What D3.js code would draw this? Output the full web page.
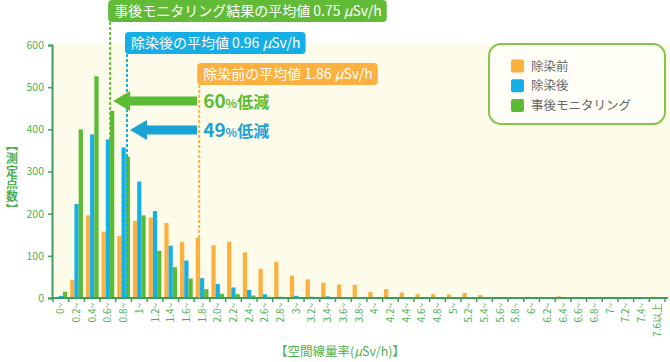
<!DOCTYPE html>
<html>
<head>
<meta charset="utf-8">
<script src="https://cdn.jsdelivr.net/npm/d3@7"></script>
<style>
  body { margin: 0; background: #fff; }
  svg { display: block; font-family: "Noto Sans CJK JP", "Noto Sans", sans-serif; }
</style>
</head>
<body>
<script>
// categories (空間線量率 bins)
var categories = ["0~","0.2~","0.4~","0.6~","0.8~","1~","1.2~","1.4~","1.6~","1.8~",
  "2.0~","2.2~","2.4~","2.6~","2.8~","3~","3.2~","3.4~","3.6~","3.8~",
  "4~","4.2~","4.4~","4.6~","4.8~","5~","5.2~","5.4~","5.6~","5.8~",
  "6~","6.2~","6.4~","6.6~","6.8~","7~","7.2~","7.4~","7.6以上"];

// 除染前
var before = [0,43,196,157,147,183,191,178,133,143,
  125,133,108,69,86,53,44,36,32,31,
  14,21,13,9,9,8,12,7,2,1,
  3,0,4,1,1,0,1,0,3];
// 除染後
var after = [5,223,388,376,357,276,206,124,89,47,
  33,25,19,9,3,5,3,4,1,1,
  1,0,0,0,0,0,0,0,0,0,
  0,0,0,0,0,0,0,0,0];
// 事後モニタリング
var monitor = [15,400,526,444,335,196,112,73,46,21,
  10,9,6,3,1,2,1,1,0,0,
  0,0,0,0,0,0,0,0,0,0,
  0,0,0,0,0,0,0,0,0];

var seriesNames = ["除染前","除染後","事後モニタリング"];
var seriesColors = ["#fbb040","#15b0e6","#5cbb35"];
var yTicks = [0,100,200,300,400,500,600];

// 平均値
var means = [
  {label: "事後モニタリング結果の平均値 0.75 ", value: 0.75, color: "#62bb37", top: 0},
  {label: "除染後の平均値 0.96 ", value: 0.96, color: "#15aee5", top: 32},
  {label: "除染前の平均値 1.86 ", value: 1.86, color: "#fbb040", top: 63}
];
var reductions = [
  {pct: "60", from: 1.86, to: 0.75, color: "#5cbb35", y: 101},
  {pct: "49", from: 1.86, to: 0.96, color: "#1ba3d6", y: 130}
];
var yTitle = ["︻","測","定","点","数","︼"];

var W = 670, H = 362;
var plotL = 53, plotR = 665, plotT = 45, plotB = 298;

var svg = d3.select("body").append("svg").attr("width", W).attr("height", H);

var x = d3.scaleBand().domain(categories).range([plotL, plotR]).padding(0);
var xi = d3.scaleBand().domain(seriesNames).range([0, x.bandwidth()]).paddingInner(0).paddingOuter(0.35);
var y = d3.scaleLinear().domain([0, 600]).range([plotB, plotT]);
var xm = d3.scaleLinear().domain([0, 2]).range([50, 210.4]); // for mean lines

// background
svg.append("rect").attr("x", plotL).attr("y", 43).attr("width", W - plotL).attr("height", plotB - 43)
  .attr("fill", "#fdfbe9");

// bars
var allSeries = [before, after, monitor];
var rows = categories.map(function(c, i) {
  return seriesNames.map(function(s, j) { return {cat: c, key: s, value: allSeries[j][i], color: seriesColors[j]}; });
});
var g = svg.append("g");
g.selectAll("g").data(rows).enter().append("g")
  .attr("transform", function(d, i) { return "translate(" + x(categories[i]) + ",0)"; })
  .selectAll("rect").data(function(d) { return d; }).enter().append("rect")
  .attr("x", function(d) { return xi(d.key); })
  .attr("width", xi.bandwidth())
  .attr("y", function(d) { return y(d.value); })
  .attr("height", function(d) { return plotB - y(d.value); })
  .attr("fill", function(d) { return d.color; });

// y axis
var yAxis = svg.append("g").attr("transform", "translate(" + (plotL - 1) + ",0)")
  .call(d3.axisLeft(y).tickValues(yTicks).tickSize(4).tickPadding(4));
yAxis.select(".domain").attr("stroke", "#3c9e5c").attr("stroke-width", 2);
yAxis.selectAll(".tick line").attr("stroke", "#3c9e5c").attr("stroke-width", 1.5);
yAxis.selectAll("text").attr("fill", "#4cb050").attr("font-size", 10.5)
  .attr("font-family", "Noto Sans CJK JP");

// x axis
var xAxis = svg.append("g").attr("transform", "translate(0," + plotB + ")")
  .call(d3.axisBottom(x).tickSize(0).tickSizeOuter(0));
xAxis.select(".domain").attr("stroke", "#3c9e5c").attr("stroke-width", 2)
  .attr("d", "M" + (plotL - 1) + ",0H" + 668);
xAxis.selectAll(".tick text")
  .attr("fill", "#4cb050").attr("font-size", 10).attr("font-family", "Noto Sans CJK JP")
  .attr("text-anchor", "end").attr("dy", "0.35em")
  .attr("transform", "translate(0,5) rotate(-90)").attr("x", 0).attr("y", 0);
xAxis.selectAll(".edge").data(categories.concat(["end"])).enter().append("line")
  .attr("class", "edge")
  .attr("x1", function(d, i) { return plotL + i * x.step(); })
  .attr("x2", function(d, i) { return plotL + i * x.step(); })
  .attr("y1", 0).attr("y2", 4)
  .attr("stroke", "#3c9e5c").attr("stroke-width", 1.5);

// axis titles
svg.append("text").attr("x", 340).attr("y", 356).attr("text-anchor", "middle")
  .attr("fill", "#4cb050").attr("font-size", 12.5)
  .html('【空間線量率(<tspan font-style="italic">μ</tspan>Sv/h)】');
svg.append("g").selectAll("text").data(yTitle).enter().append("text")
  .attr("x", 12).attr("y", function(d, i) { return 150 + i * 12.8; })
  .attr("text-anchor", "middle")
  .attr("fill", "#4cb050").attr("font-size", 12).attr("font-weight", "bold")
  .text(function(d) { return d; });

// mean lines and labels
means.forEach(function(m) {
  var lx = xm(m.value);
  svg.append("line").attr("x1", lx).attr("x2", lx).attr("y1", m.top + 22).attr("y2", plotB)
    .attr("stroke", m.color).attr("stroke-width", 2).attr("stroke-dasharray", "3,2");
  var box = svg.append("rect").attr("x", lx - 2).attr("y", m.top).attr("height", 22).attr("rx", 4)
    .attr("fill", m.color);
  var t = svg.append("text").attr("x", lx + 4).attr("y", m.top + 16)
    .attr("fill", "#fff").attr("font-size", 14);
  t.append("tspan").text(m.label);
  t.append("tspan").attr("font-style", "italic").text("μ");
  t.append("tspan").text("Sv/h");
  box.attr("width", t.node().getComputedTextLength() + 11);
});

// reduction arrows
reductions.forEach(function(r) {
  var tip = xm(r.to) + 3, end = xm(r.from) - 2, cy = r.y;
  var p = d3.path();
  p.moveTo(tip, cy);
  p.lineTo(tip + 17, cy - 10);
  p.lineTo(tip + 17, cy - 4.5);
  p.lineTo(end, cy - 4.5);
  p.lineTo(end, cy + 4.5);
  p.lineTo(tip + 17, cy + 4.5);
  p.lineTo(tip + 17, cy + 10);
  p.closePath();
  svg.append("path").attr("d", p.toString()).attr("fill", r.color);
  var t = svg.append("text").attr("x", xm(r.from) + 4).attr("y", cy + 7)
    .attr("fill", r.color).attr("font-weight", "bold");
  t.append("tspan").attr("font-size", 19).text(r.pct);
  t.append("tspan").attr("font-size", 12).text("%");
  t.append("tspan").attr("font-size", 16).text("低減");
});

// legend
var lg = svg.append("g").attr("transform", "translate(489,44)");
lg.append("rect").attr("width", 176).attr("height", 80).attr("rx", 12)
  .attr("fill", "#fffef6").attr("stroke", "#86c447").attr("stroke-width", 2);
seriesNames.forEach(function(s, i) {
  lg.append("rect").attr("x", 22).attr("y", 15.5 + i * 19.8).attr("width", 13).attr("height", 13)
    .attr("rx", 2).attr("fill", seriesColors[i]);
  lg.append("text").attr("x", 42).attr("y", 26.5 + i * 19.8).attr("fill", "#666")
    .attr("font-size", 12.5).text(s);
});
</script>
</body>
</html>
